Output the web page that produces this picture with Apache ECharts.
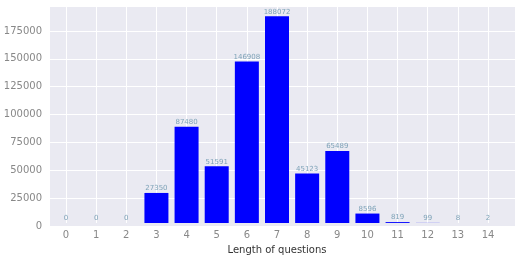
<!DOCTYPE html>
<html>
<head>
<meta charset="utf-8">
<script src="https://cdn.jsdelivr.net/npm/echarts@6/dist/echarts.min.js"></script>
<style>
  html, body { margin: 0; padding: 0; background: #fff; }
  #main { width: 516px; height: 260px; }
</style>
</head>
<body>
<div id="main"></div>
<script>
// 问题长度分布
var lengths = ['0','1','2','3','4','5','6','7','8','9','10','11','12','13','14'];
var counts = [0, 0, 0, 27350, 87480, 51591, 146908, 188072, 45123, 65489, 8596, 819, 99, 8, 2];
var yTicks = [0, 25000, 50000, 75000, 100000, 125000, 150000, 175000];

var yMax = 188072 * 1.05;
var tickStep = yTicks[1] - yTicks[0];

var option = {
    animation: false,
    grid: [
        // 背景区域 (含横向网格线)
        { left: 50, right: 1, top: 6, bottom: 34, backgroundColor: '#EAEAF2', show: true, borderWidth: 0 },
        // 柱子区域
        { left: 66, right: 28, top: 6, bottom: 34 }
    ],
    xAxis: [
        { gridIndex: 0, type: 'value', min: 0, max: 1, show: false },
        {
            gridIndex: 1,
            type: 'category',
            boundaryGap: false,
            data: lengths,
            name: 'Length of questions',
            nameLocation: 'middle',
            nameGap: 22,
            nameTextStyle: { color: '#333', fontSize: 10, fontFamily: 'DejaVu Sans' },
            axisLine: { show: false },
            axisTick: { show: false },
            axisLabel: { color: '#888', fontSize: 10, fontFamily: 'DejaVu Sans', margin: 7 },
            splitLine: { show: true, lineStyle: { color: '#fff', width: 1 } }
        }
    ],
    yAxis: [
        {
            gridIndex: 0,
            type: 'value',
            min: 0,
            max: yMax,
            interval: tickStep,
            axisLine: { show: false },
            axisTick: { show: false },
            axisLabel: {
                color: '#888', fontSize: 10, fontFamily: 'DejaVu Sans', margin: 8, showMaxLabel: false,
                formatter: function (v) { return String(v); }
            },
            splitLine: { show: true, lineStyle: { color: '#fff', width: 1 } }
        },
        {
            gridIndex: 1,
            type: 'value',
            min: 0,
            max: yMax,
            show: false
        }
    ],
    series: [
        {
            name: 'count',
            type: 'bar',
            xAxisIndex: 1,
            yAxisIndex: 1,
            data: counts,
            barWidth: 24,
            itemStyle: { color: '#0000ff' },
            label: {
                show: true,
                position: 'top',
                distance: 1,
                color: '#7fa3b8',
                fontSize: 7,
                fontFamily: 'DejaVu Sans'
            }
        }
    ]
};

var chart_len = echarts.init(document.getElementById('main'));
chart_len.setOption(option);
</script>
</body>
</html>
